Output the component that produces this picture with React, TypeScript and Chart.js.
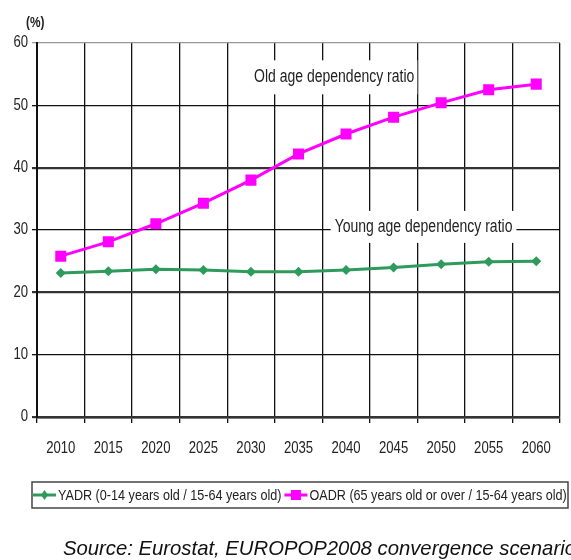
import React, { useEffect, useRef } from "react";
import { Chart, registerables } from "chart.js";

Chart.register(...registerables);

const years = ["2010", "2015", "2020", "2025", "2030", "2035", "2040", "2045", "2050", "2055", "2060"];
const yadr = [23.1, 23.4, 23.7, 23.6, 23.3, 23.3, 23.6, 24.0, 24.5, 24.9, 25.0];
const oadr = [25.8, 28.1, 31.0, 34.3, 38.0, 42.2, 45.4, 48.1, 50.4, 52.5, 53.4];

const yadrLegend = "YADR (0-14 years old / 15-64 years old)";
const oadrLegend = "OADR (65 years old or over / 15-64 years old)";
const oldLabel = "Old age dependency ratio";
const youngLabel = "Young age dependency ratio";
const sourceText = "Source: Eurostat, EUROPOP2008 convergence scenario";

const GREEN = "#2e9a5c";
const MAGENTA = "#ff00ff";
const SANS = "'Liberation Sans', Arial, sans-serif";
// horizontal squeeze that turns Liberation Sans into a narrow face
const SQUEEZE = 0.8;

// Text labels placed in data space (category index, percent) with a white backing box
const notes = [
  { text: oldLabel, x: 5.75, y: 54.5, padX: 3, padY: 8 },
  { text: youngLabel, x: 7.63, y: 30.5, padX: 4, padY: 7 },
];

function narrowWidth(ctx: CanvasRenderingContext2D, text: string, sq = SQUEEZE) {
  return ctx.measureText(text).width * sq;
}

// draws text squeezed horizontally; align is applied to the squeezed width
function fillNarrow(
  ctx: CanvasRenderingContext2D,
  text: string,
  x: number,
  y: number,
  sq = SQUEEZE,
  align: "left" | "center" | "right" = "left"
) {
  const w = narrowWidth(ctx, text, sq);
  const left = align === "left" ? x : align === "center" ? x - w / 2 : x - w;
  ctx.save();
  ctx.translate(left, y);
  ctx.scale(sq, 1);
  ctx.textAlign = "left";
  ctx.fillText(text, 0, 0);
  ctx.restore();
}

function drawMarker(ctx: CanvasRenderingContext2D, style: string, x: number, y: number, color: string) {
  ctx.fillStyle = color;
  if (style === "rect") {
    ctx.fillRect(x - 5, y - 5, 10, 10);
  } else {
    ctx.beginPath();
    ctx.moveTo(x, y - 5);
    ctx.lineTo(x + 3.5, y);
    ctx.lineTo(x, y + 5);
    ctx.lineTo(x - 3.5, y);
    ctx.closePath();
    ctx.fill();
  }
}

const notesPlugin = {
  id: "notes",
  beforeDatasetsDraw(chart: any) {
    const { ctx, scales } = chart;
    ctx.save();
    ctx.font = `17.5px ${SANS}`;
    ctx.textBaseline = "middle";
    for (const n of notes) {
      const cx = scales.x.getPixelForValue(n.x);
      const cy = scales.y.getPixelForValue(n.y);
      const w = narrowWidth(ctx, n.text);
      ctx.fillStyle = "#fff";
      ctx.fillRect(cx - w / 2 - n.padX, cy - 9 - n.padY, w + 2 * n.padX, 18 + 2 * n.padY);
      ctx.fillStyle = "#222";
      fillNarrow(ctx, n.text, cx, cy, SQUEEZE, "center");
    }
    ctx.restore();
  },
  afterDraw(chart: any) {
    const { ctx, chartArea, scales } = chart;
    ctx.save();
    ctx.textBaseline = "middle";

    // axis tick labels in a narrow face
    ctx.fillStyle = "#222";
    ctx.font = `16px ${SANS}`;
    scales.x.ticks.forEach((t: any, i: number) => {
      const px = scales.x.getPixelForTick(i);
      fillNarrow(ctx, String(scales.x.getLabelForValue(t.value)), px, chartArea.bottom + 32, 0.82, "center");
    });
    scales.y.ticks.forEach((t: any, i: number) => {
      const py = scales.y.getPixelForTick(i);
      fillNarrow(ctx, String(t.label), chartArea.left - 9, py, 0.82, "right");
    });

    // unit label above the value axis
    ctx.font = `bold 14px ${SANS}`;
    fillNarrow(ctx, "(%)", chartArea.left - 11, chartArea.top - 20, 0.85);

    // legend box
    const lx = 32;
    const ly = 482;
    const lw = 536;
    const lh = 26;
    ctx.strokeStyle = "#444";
    ctx.lineWidth = 1.5;
    ctx.strokeRect(lx, ly, lw, lh);
    const my = ly + lh / 2;
    ctx.font = `14.5px ${SANS}`;
    const items = [
      { text: yadrLegend, color: GREEN, style: "rectRot" },
      { text: oadrLegend, color: MAGENTA, style: "rect" },
    ];
    const legendSq = 0.87;
    let x = lx + 1;
    for (const it of items) {
      ctx.strokeStyle = it.color;
      ctx.lineWidth = 3;
      ctx.beginPath();
      ctx.moveTo(x, my);
      ctx.lineTo(x + 23, my);
      ctx.stroke();
      drawMarker(ctx, it.style, x + 11.5, my, it.color);
      ctx.fillStyle = "#222";
      fillNarrow(ctx, it.text, x + 25, my + 1, legendSq);
      x += 25 + narrowWidth(ctx, it.text, legendSq) + 3;
    }

    // source line
    ctx.font = `italic 20.3px ${SANS}`;
    ctx.fillStyle = "#111";
    ctx.textAlign = "left";
    ctx.fillText(sourceText, 63, 549);
    ctx.restore();
  },
};

export default function App() {
  const ref = useRef<HTMLCanvasElement | null>(null);

  useEffect(() => {
    document.body.style.margin = "0";
    const canvas = ref.current;
    if (!canvas) return;
    const chart = new Chart(canvas, {
      type: "line",
      data: {
        labels: years,
        datasets: [
          {
            label: yadrLegend,
            data: yadr,
            borderColor: GREEN,
            backgroundColor: GREEN,
            borderWidth: 3,
            pointStyle: "rectRot",
            pointRadius: 5,
            pointBorderWidth: 0,
          },
          {
            label: oadrLegend,
            data: oadr,
            borderColor: MAGENTA,
            backgroundColor: MAGENTA,
            borderWidth: 3,
            pointStyle: "rect",
            pointRadius: 7.8,
            pointBorderWidth: 0,
          },
        ],
      },
      options: {
        responsive: false,
        animation: false,
        layout: { padding: { top: 43, right: 11, left: 0, bottom: 0 } },
        plugins: { legend: { display: false }, tooltip: { enabled: false } },
        scales: {
          x: {
            type: "category",
            offset: true,
            afterFit: (s: any) => {
              s.height = 143;
            },
            grid: {
              offset: true,
              color: (c: any) => (c.index === years.length ? "#aaa" : "#111"),
              lineWidth: 1.3,
              tickLength: 6,
            },
            border: { color: "#333", width: 2.5 },
            ticks: { display: false, maxRotation: 0 },
          },
          y: {
            min: 0,
            max: 60,
            afterFit: (s: any) => {
              s.width = 37;
            },
            grid: {
              color: (c: any) => (c.tick && c.tick.value === 60 ? "#999" : c.tick && c.tick.value % 20 === 0 ? "#333" : "#111"),
              lineWidth: (c: any) => (c.tick && c.tick.value % 20 === 0 && c.tick.value !== 60 ? 2.2 : 1.3),
              tickLength: 5,
            },
            border: { color: "#111", width: 2 },
            ticks: { display: false, stepSize: 10 },
          },
        },
      },
      plugins: [notesPlugin],
    });
    return () => chart.destroy();
  }, []);

  return (
    <div style={{ width: 571, height: 560, background: "#fff" }}>
      <canvas ref={ref} width={571} height={560} />
    </div>
  );
}
